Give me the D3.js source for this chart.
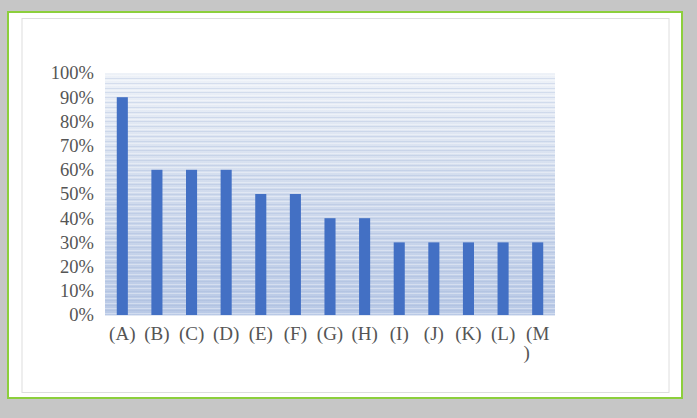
<!DOCTYPE html>
<html>
<head>
<meta charset="utf-8">
<script src="https://cdn.jsdelivr.net/npm/d3@7"></script>
<style>
  body { margin: 0; background: #c6c6c6; }
  svg { display: block; }
</style>
</head>
<body>
<div id="chart"></div>
<script>
const categories = ["(A)", "(B)", "(C)", "(D)", "(E)", "(F)", "(G)", "(H)", "(I)", "(J)", "(K)", "(L)", "(M)"];
const values = [0.9, 0.6, 0.6, 0.6, 0.5, 0.5, 0.4, 0.4, 0.3, 0.3, 0.3, 0.3, 0.3];
const yTicks = [0, 0.1, 0.2, 0.3, 0.4, 0.5, 0.6, 0.7, 0.8, 0.9, 1.0];

const width = 697, height = 418;
const plot = { left: 105, right: 555, top: 73, bottom: 315 };

const svg = d3.select("#chart").append("svg")
    .attr("width", width)
    .attr("height", height);

// frame: green outer box and faint inner box
svg.append("rect")
    .attr("x", 8).attr("y", 12).attr("width", 674).attr("height", 386)
    .attr("fill", "#ffffff").attr("stroke", "#8ccf3c").attr("stroke-width", 2);
svg.append("rect")
    .attr("x", 22).attr("y", 18.5).attr("width", 647).attr("height", 374)
    .attr("fill", "#ffffff").attr("stroke", "#dedede").attr("stroke-width", 1);

const x = d3.scaleBand()
    .domain(categories)
    .range([plot.left, plot.right])
    .paddingInner(0.68)
    .paddingOuter(0.34);

const y = d3.scaleLinear()
    .domain([0, 1])
    .range([plot.bottom, plot.top]);

// plot background gradient
const defs = svg.append("defs");
const grad = defs.append("linearGradient")
    .attr("id", "bg").attr("x1", 0).attr("y1", 0).attr("x2", 0).attr("y2", 1);
grad.append("stop").attr("offset", "0%").attr("stop-color", "#eef2f8");
grad.append("stop").attr("offset", "45%").attr("stop-color", "#d3ddee");
grad.append("stop").attr("offset", "100%").attr("stop-color", "#b9c9e6");

svg.append("rect")
    .attr("x", plot.left).attr("y", plot.top)
    .attr("width", plot.right - plot.left)
    .attr("height", plot.bottom - plot.top)
    .attr("fill", "url(#bg)");

// fine horizontal stripes
const stripes = d3.range(0, 100, 1).map(d => d / 100);
svg.append("g")
    .selectAll("line")
    .data(stripes)
    .join("line")
    .attr("x1", plot.left).attr("x2", plot.right)
    .attr("y1", d => Math.round(y(d)) + 0.5)
    .attr("y2", d => Math.round(y(d)) + 0.5)
    .attr("stroke", (d, i) => i % 2 ? "#ffffff" : "#9fb2d6")
    .attr("stroke-opacity", (d, i) => i % 2 ? 0.35 : 0.3);

// bars
svg.append("g")
    .selectAll("rect")
    .data(values)
    .join("rect")
    .attr("x", (d, i) => x(categories[i]))
    .attr("y", d => y(d))
    .attr("width", x.bandwidth())
    .attr("height", d => y(0) - y(d))
    .attr("fill", "#4370c4");

const font = "'Liberation Serif', 'DejaVu Serif', serif";

// y axis labels
const yAxis = svg.append("g")
    .attr("transform", `translate(${plot.left - 11},0)`)
    .call(d3.axisLeft(y).tickValues(yTicks).tickFormat(d3.format(".0%")).tickSize(0).tickPadding(0));
yAxis.select(".domain").remove();
yAxis.selectAll("text")
    .attr("font-family", font)
    .attr("font-size", 18.5)
    .attr("fill", "#555555");

// x axis labels (last one wraps like the original)
const xAxis = svg.append("g")
    .attr("transform", `translate(0,${plot.bottom + 11})`)
    .call(d3.axisBottom(x).tickSize(0).tickPadding(0));
xAxis.select(".domain").remove();
xAxis.selectAll("text")
    .attr("font-family", font)
    .attr("font-size", 19)
    .attr("fill", "#555555")
    .each(function (d) {
        if (d === "(M)") {
            const t = d3.select(this).text(null);
            t.append("tspan").attr("x", 0).attr("dy", "0.71em").text("(M");
            t.append("tspan").attr("x", -11).attr("dy", "1.05em").text(")");
        }
    });
</script>
</body>
</html>
